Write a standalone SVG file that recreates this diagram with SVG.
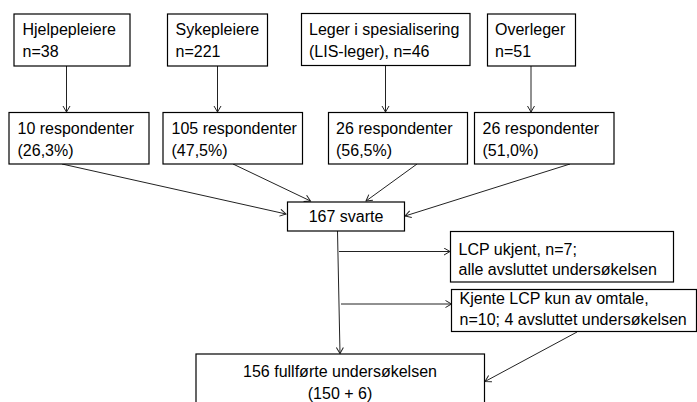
<svg xmlns="http://www.w3.org/2000/svg" width="697" height="402" viewBox="0 0 697 402">
<style>
.box rect{fill:#fff;stroke:#000;stroke-width:1.2}
text{font-family:"Liberation Sans",Arial,sans-serif;font-size:16px;fill:#000}
.c{text-anchor:middle}
.conn line{stroke:#222;stroke-width:1;marker-end:url(#arr)}
</style>
<defs>
<marker id="arr" markerWidth="10" markerHeight="10" refX="7" refY="4" orient="auto" markerUnits="userSpaceOnUse">
<path d="M1,0.5 L7,4 L1,7.5" fill="none" stroke="#222" stroke-width="1"/>
</marker>
</defs>
<rect width="697" height="402" fill="#fff"/>
<g class="conn">
<line x1="66.5" y1="66" x2="66.5" y2="112"/>
<line x1="217.5" y1="66" x2="217.5" y2="112"/>
<line x1="385.5" y1="66" x2="385.5" y2="112"/>
<line x1="531" y1="66" x2="531" y2="112"/>
<line x1="62" y1="164" x2="286" y2="214"/>
<line x1="233" y1="164" x2="310.5" y2="201"/>
<line x1="417" y1="164" x2="366" y2="201"/>
<line x1="570" y1="164" x2="405" y2="216"/>
<line x1="337.5" y1="231" x2="340" y2="353.5"/>
<line x1="339" y1="251.5" x2="450" y2="251.5"/>
<line x1="341" y1="304" x2="451.5" y2="304"/>
<line x1="577" y1="332" x2="485" y2="381.5"/>
</g>
<g id="n1" class="box"><rect x="14" y="14" width="116" height="52"/><text x="22.5" y="35">Hjelpepleiere</text><text x="22.5" y="57">n=38</text></g>
<g id="n2" class="box"><rect x="167.5" y="14" width="100" height="52"/><text x="175.5" y="35">Sykepleiere</text><text x="175.5" y="57">n=221</text></g>
<g id="n3" class="box"><rect x="301.5" y="13.5" width="168.5" height="52"/><text x="309" y="35">Leger i spesialisering</text><text x="309" y="57">(LIS-leger), n=46</text></g>
<g id="n4" class="box"><rect x="487.5" y="14" width="88" height="52"/><text x="495" y="35">Overleger</text><text x="495" y="57">n=51</text></g>
<g id="r1" class="box"><rect x="9" y="112.5" width="140" height="51.5"/><text x="17.5" y="133.5">10 respondenter</text><text x="17.5" y="155.5">(26,3%)</text></g>
<g id="r2" class="box"><rect x="163" y="112.5" width="139.5" height="51.5"/><text x="171.5" y="133.5">105 respondenter</text><text x="171.5" y="155.5">(47,5%)</text></g>
<g id="r3" class="box"><rect x="328.5" y="112.5" width="139" height="51.5"/><text x="336" y="133.5">26 respondenter</text><text x="336" y="155.5">(56,5%)</text></g>
<g id="r4" class="box"><rect x="474.5" y="112.5" width="139.5" height="51.5"/><text x="482.5" y="133.5">26 respondenter</text><text x="482.5" y="155.5">(51,0%)</text></g>
<g id="svarte" class="box"><rect x="287.5" y="202" width="117" height="29"/><text class="c" x="346" y="222">167 svarte</text></g>
<g id="ukjent" class="box"><rect x="450.5" y="231.5" width="223" height="50.5"/><text x="458.5" y="255">LCP ukjent, n=7;</text><text x="458.5" y="274.5">alle avsluttet undersøkelsen</text></g>
<g id="omtale" class="box"><rect x="451.5" y="289.5" width="245" height="42"/><text x="459.5" y="303.5">Kjente LCP kun av omtale,</text><text x="459.5" y="324.5">n=10; 4 avsluttet undersøkelsen</text></g>
<g id="fullforte" class="box"><rect x="196" y="354" width="288.5" height="60"/><text class="c" x="340" y="377">156 fullførte undersøkelsen</text><text class="c" x="340" y="398.5">(150 + 6)</text></g>
</svg>
